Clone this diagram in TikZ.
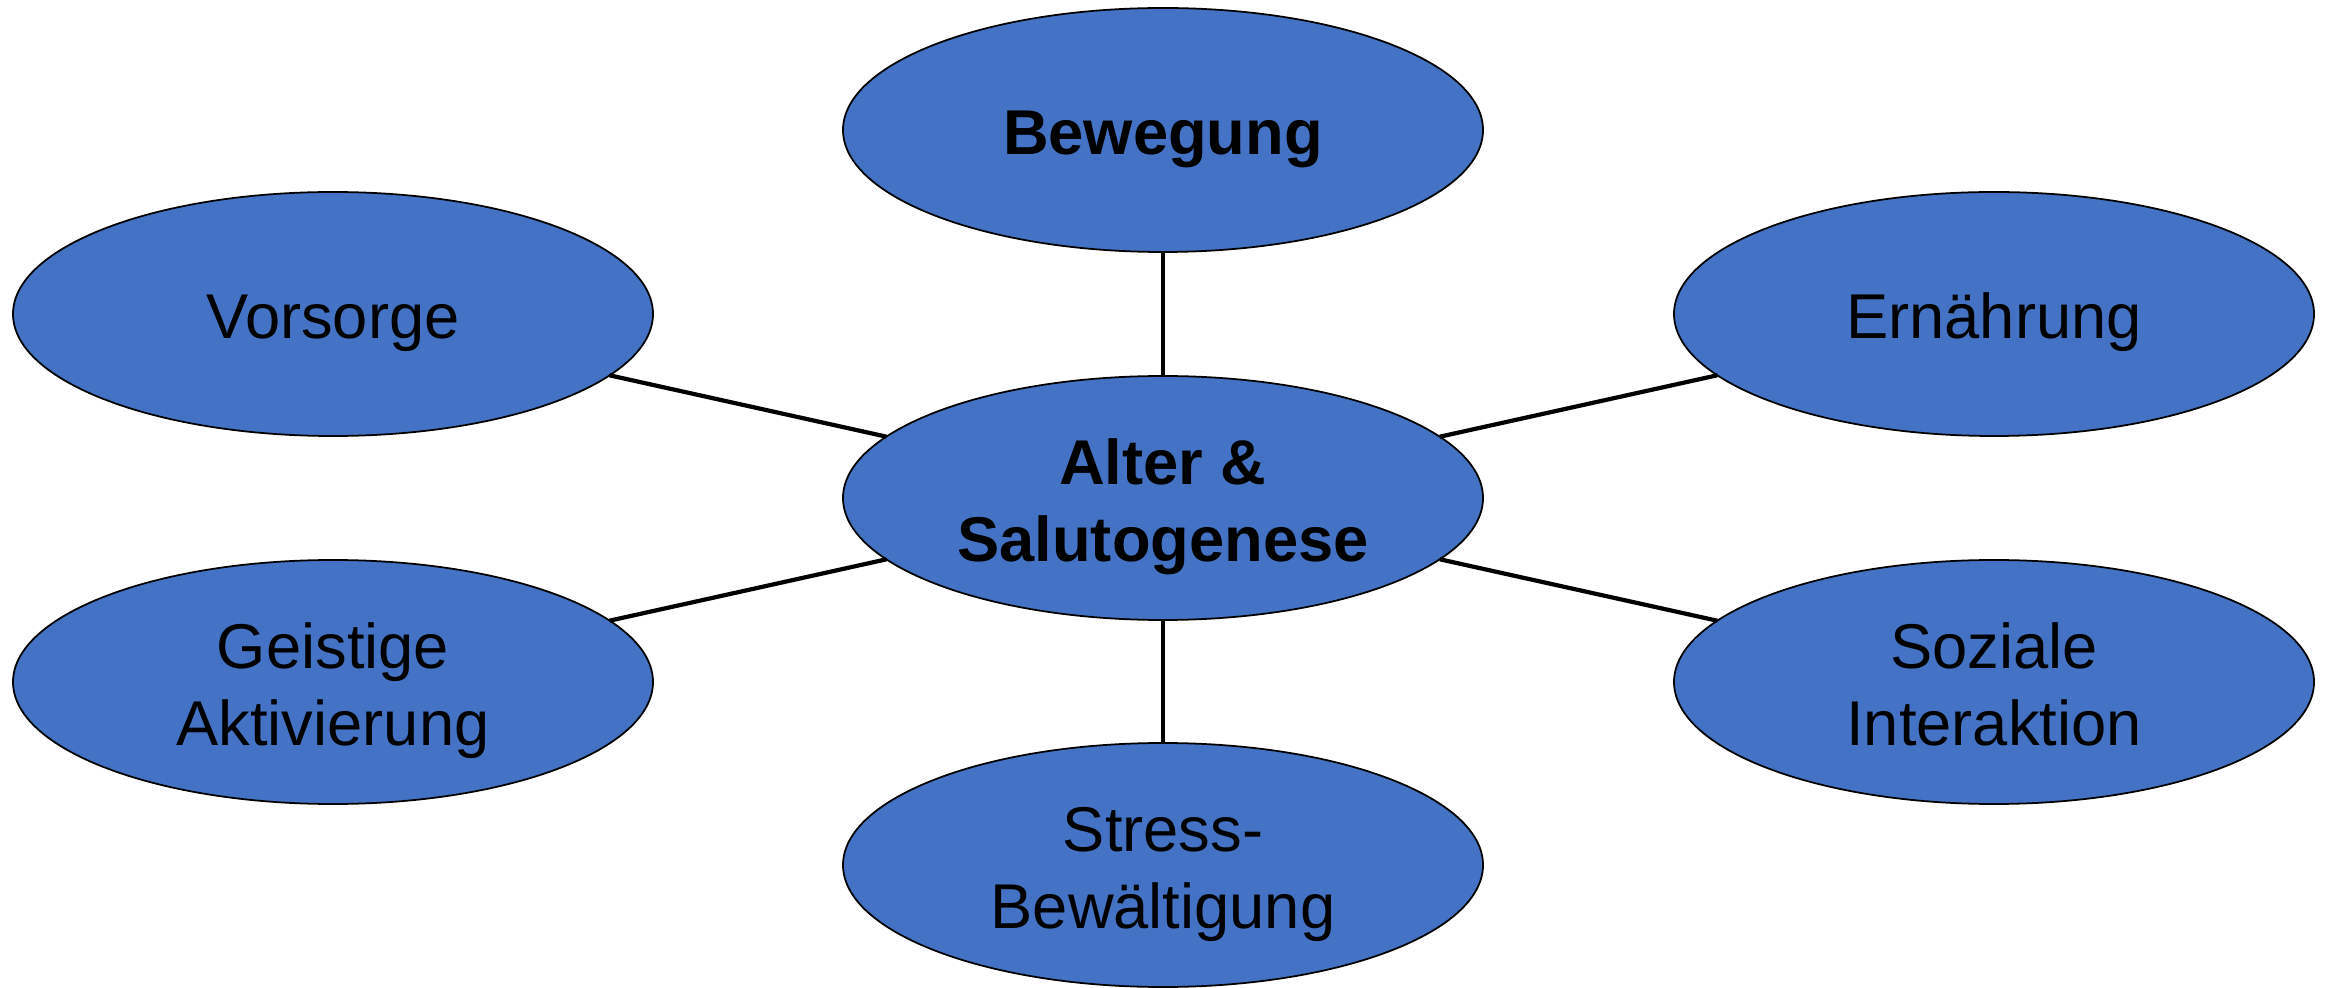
\documentclass[tikz,border=0pt]{standalone}
\usepackage{fontspec}
\setmainfont{Liberation Sans}
\usepackage{tikz}
\usetikzlibrary{shapes.geometric}
\definecolor{topicblue}{HTML}{4472C4}
% struts so that the lines sit like in the slide
\newcommand{\topstrut}{\rule{0pt}{1em}}
\newcommand{\botstrut}{\rule[-0.22em]{0pt}{0.22em}}

\begin{document}
\begin{tikzpicture}[
	topic/.style={ellipse, draw=black, line width=0.5pt, fill=topicblue,
		minimum width=6.4cm, minimum height=2.44cm, inner sep=0pt, outer sep=0pt,
		align=center, font=\fontsize{18}{22}\selectfont},
	link/.style={line width=1.2pt}
]
\useasboundingbox (0,0) rectangle (23.3,9.87);

\node[topic, font=\fontsize{18}{22}\selectfont\bfseries] (alter) at (11.63,4.89) {\topstrut Alter \&\\Salutogenese\botstrut};
\node[topic, font=\fontsize{18}{22}\selectfont\bfseries] (bewegung) at (11.63,8.57) {\topstrut Bewegung\botstrut};
\node[topic] (vorsorge) at (3.33,6.73) {\topstrut Vorsorge\botstrut};
\node[topic] (ernaehrung) at (19.94,6.73) {\topstrut Ernährung\botstrut};
\node[topic] (geistig) at (3.33,3.05) {\topstrut Geistige\\Aktivierung\botstrut};
\node[topic] (sozial) at (19.94,3.05) {\topstrut Soziale\\Interaktion\botstrut};
\node[topic] (stress) at (11.63,1.22) {\topstrut Stress-\\Bewältigung\botstrut};

\foreach \n in {bewegung,vorsorge,ernaehrung,geistig,sozial,stress}{
	\draw[link] (alter) -- (\n);
}
\end{tikzpicture}
\end{document}
